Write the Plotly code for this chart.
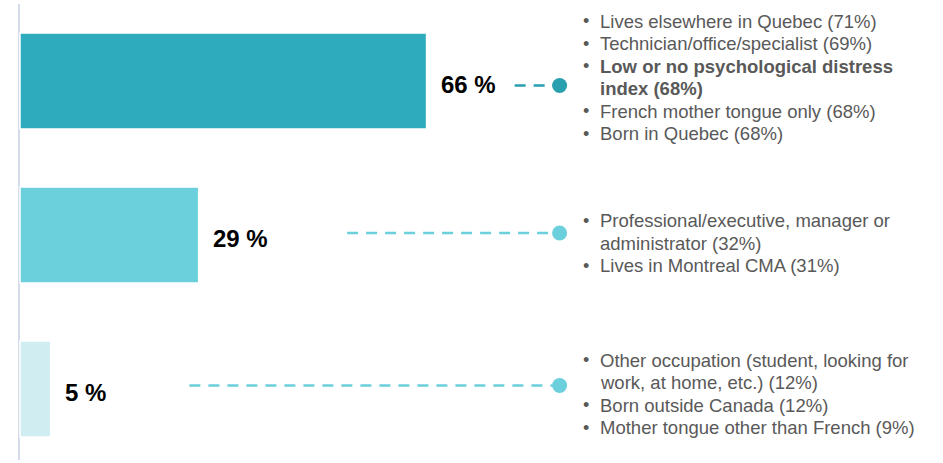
import plotly.graph_objects as go

# ---- data ----
categories = ["Group A", "Group B", "Group C"]
values = [66, 29, 5]
value_labels = ["66 %", "29 %", "5 %"]
bar_colors = ["#2eacbd", "#6bd0dc", "#d0edf2"]
dot_colors = ["#2a9fae", "#6bd0dc", "#6bd0dc"]

group_items = [
    [("Lives elsewhere in Quebec (71%)", False),
     ("Technician/office/specialist (69%)", False),
     ("Low or no psychological distress<br>index (68%)", True),
     ("French mother tongue only (68%)", False),
     ("Born in Quebec (68%)", False)],
    [("Professional/executive, manager or<br>administrator (32%)", False),
     ("Lives in Montreal CMA (31%)", False)],
    [("Other occupation (student, looking for<br>work, at home, etc.) (12%)", False),
     ("Born outside Canada (12%)", False),
     ("Mother tongue other than French (9%)", False)],
]

# ---- layout parameters (pixels) ----
W, H = 943, 463
PX_PER_UNIT = 6.16
X0_PX = 20
Y_CENTER0 = 81
Y_STEP = 154
connector_start = [80.3, 53.1, 27.5]      # x (data units) where dashed connector starts
dot_x = 87.6                               # x (data units) of connector dot
dot_offset_px = [4.5, -2, -3.5]
group_first_line_px = [21, 220.5, 360]
LINE_STEP = 22.6
TEXT_X_PX = 598
BULLET_X_PX = 581
FONT = "Arial, Liberation Sans, sans-serif"

def py_to_y(py):
    return (py - Y_CENTER0) / Y_STEP

fig = go.Figure()
ys = list(range(len(categories)))
fig.add_trace(go.Bar(
    x=values, y=ys, orientation="h",
    marker=dict(color=bar_colors, line=dict(color="white", width=1.5)),
    width=96 / Y_STEP, hoverinfo="skip", showlegend=False,
))

# connectors and dots
for i, v in enumerate(values):
    yy = i + dot_offset_px[i] / Y_STEP
    fig.add_trace(go.Scatter(
        x=[connector_start[i], dot_x - 1], y=[yy, yy], mode="lines",
        line=dict(color=dot_colors[i], width=2.5, dash="11px,8px"),
        hoverinfo="skip", showlegend=False,
    ))
    fig.add_trace(go.Scatter(
        x=[dot_x], y=[yy], mode="markers",
        marker=dict(color=dot_colors[i], size=15),
        hoverinfo="skip", showlegend=False,
    ))

annotations = []
for i, v in enumerate(values):
    annotations.append(dict(
        x=v, y=i, xref="x", yref="y", text=f"<b>{value_labels[i]}</b>", showarrow=False,
        xanchor="left", yanchor="middle", xshift=12, yshift=-3,
        font=dict(family=FONT, size=24, color="#000000"),
    ))

for g, items in enumerate(group_items):
    line_idx = 0
    for text, bold in items:
        parts = text.split("<br>")
        py = group_first_line_px[g] + line_idx * LINE_STEP
        annotations.append(dict(
            x=BULLET_X_PX / W, y=1 - py / H, xref="paper", yref="paper",
            text="•", showarrow=False, xanchor="left", yanchor="middle",
            font=dict(family=FONT, size=18, color="#595959"),
        ))
        for p in parts:
            py = group_first_line_px[g] + line_idx * LINE_STEP
            annotations.append(dict(
                x=TEXT_X_PX / W, y=1 - py / H, xref="paper", yref="paper",
                text=f"<b>{p}</b>" if bold else p, showarrow=False,
                xanchor="left", yanchor="middle",
                font=dict(family=FONT, size=18.5, color="#595959"),
            ))
            line_idx += 1

fig.add_shape(type="line", xref="x", yref="paper",
              x0=-1 / PX_PER_UNIT, x1=-1 / PX_PER_UNIT, y0=1 - 460 / H, y1=1 - 4 / H,
              line=dict(color="#d4dcec", width=2), layer="below")

fig.update_layout(
    width=W, height=H,
    margin=dict(l=0, r=0, t=0, b=0),
    paper_bgcolor="white", plot_bgcolor="white",
    xaxis=dict(range=[-X0_PX / PX_PER_UNIT, (W - X0_PX) / PX_PER_UNIT],
               visible=False, fixedrange=True),
    yaxis=dict(range=[py_to_y(H), py_to_y(0)], visible=False, fixedrange=True),
    annotations=annotations,
    showlegend=False,
)

fig.write_html("out.html", config={"displayModeBar": False},
               post_script="document.body.style.margin='0';document.body.style.overflow='hidden';")
